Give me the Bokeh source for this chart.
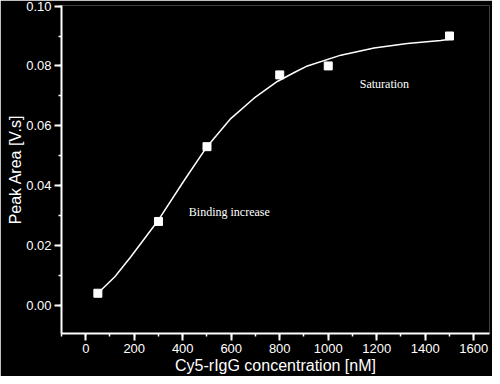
from bokeh.plotting import figure
from bokeh.models import Range1d, Label, FixedTicker, Title
from bokeh.embed import file_html
from bokeh.resources import INLINE

# measured data points
conc = [50, 300, 500, 800, 1000, 1500]
area = [0.004, 0.028, 0.053, 0.077, 0.080, 0.090]

# fitted curve
curve_x = [50, 120, 186, 300, 405, 500, 598, 694, 790, 860, 914, 1052, 1189, 1326, 1464, 1500]
curve_y = [0.0040, 0.0095, 0.0162, 0.0285, 0.0416, 0.0530, 0.0624, 0.0692, 0.0748, 0.0778,
           0.0800, 0.0836, 0.0860, 0.0875, 0.0885, 0.0889]

x_ticks = [0, 200, 400, 600, 800, 1000, 1200, 1400, 1600]
y_ticks = [0.00, 0.02, 0.04, 0.06, 0.08, 0.10]
y_labels = {0.00: "0.00", 0.02: "0.02", 0.04: "0.04", 0.06: "0.06", 0.08: "0.08", 0.10: "0.10"}

p = figure(width=492, height=376, output_backend="svg", toolbar_location=None,
           x_range=Range1d(-100, 1665), y_range=Range1d(-0.00946, 0.1002),
           min_border_left=61, min_border_right=3, min_border_top=5, min_border_bottom=40)

p.background_fill_color = "black"
p.border_fill_color = "black"
p.outline_line_color = None
p.xgrid.visible = False
p.ygrid.visible = False

p.line(curve_x, curve_y, line_color="white", line_width=1.5)
p.scatter(conc, area, marker="square", size=8, fill_color="white", line_color="white")

for ax in (p.xaxis[0], p.yaxis[0]):
    ax.axis_line_color = "white"
    ax.axis_line_width = 2
    ax.major_tick_line_color = "white"
    ax.major_tick_line_width = 2
    ax.minor_tick_line_color = "white"
    ax.minor_tick_line_width = 1.5
    ax.major_tick_out = 7
    ax.major_tick_in = 0
    ax.minor_tick_out = 3
    ax.minor_tick_in = 0
    ax.major_label_text_color = "white"
    ax.major_label_text_font = "Liberation Sans"
    ax.major_label_text_font_size = "13px"
    ax.axis_label_text_color = "white"
    ax.axis_label_text_font = "Liberation Sans"
    ax.axis_label_text_font_size = "16px"
    ax.axis_label_text_font_style = "normal"

p.xaxis[0].ticker = FixedTicker(ticks=x_ticks, minor_ticks=list(range(-100, 1701, 100)))
p.yaxis[0].ticker = FixedTicker(ticks=y_ticks, minor_ticks=[-0.01 + 0.01 * i for i in range(12)])
p.yaxis[0].major_label_overrides = y_labels
p.xaxis[0].major_label_standoff = 3
p.yaxis[0].major_label_standoff = 3
p.xaxis[0].axis_label = "Cy5-rIgG concentration [nM]"
p.xaxis[0].axis_label_standoff = 1

p.add_layout(Title(text="Peak Area [V.s]", align="center", offset=27,
                   text_color="white", text_font="Liberation Sans",
                   text_font_size="16px", text_font_style="normal",
                   standoff=0), "left")

p.add_layout(Label(x=425, y=0.0312, text="Binding increase", text_color="white",
                   text_font="Liberation Serif", text_font_size="12px",
                   text_baseline="middle"))
p.add_layout(Label(x=1130, y=0.0739, text="Saturation", text_color="white",
                   text_font="Liberation Serif", text_font_size="12px",
                   text_baseline="middle"))

open("out.html", "w").write(file_html(p, INLINE))
